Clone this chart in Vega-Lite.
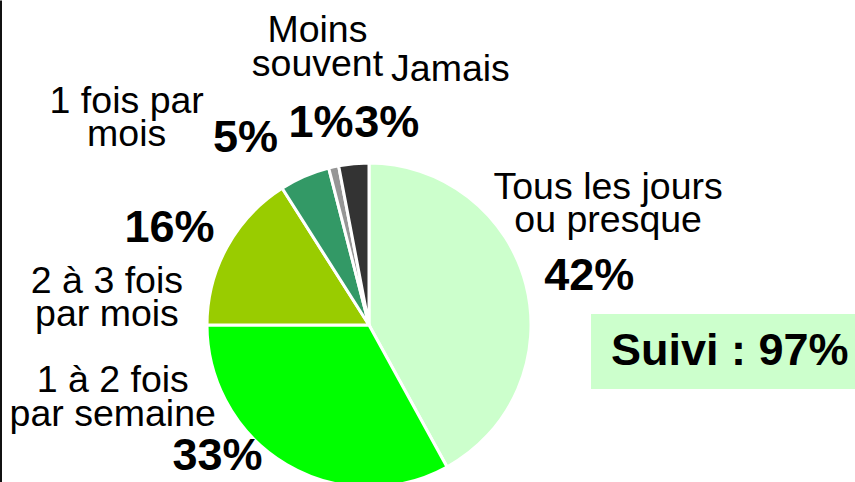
{
  "$schema": "https://vega.github.io/schema/vega-lite/v6.json",
  "width": 738,
  "height": 314,
  "autosize": {"type": "none"},
  "padding": {"left": 0, "top": 168, "right": 117, "bottom": 0},
  "background": "#ffffff",
  "config": {"view": {"stroke": null}, "font": "Liberation Sans"},
  "layer": [
    {
      "data": {
        "values": [
          {"cat": "Tous les jours ou presque", "label": "Tous les jours\nou presque", "val": 42, "pct": "42%", "rang": 1},
          {"cat": "1 à 2 fois par semaine", "label": "1 à 2 fois\npar semaine", "val": 33, "pct": "33%", "rang": 2},
          {"cat": "2 à 3 fois par mois", "label": "2 à 3 fois\npar mois", "val": 16, "pct": "16%", "rang": 3},
          {"cat": "1 fois par mois", "label": "1 fois par\nmois", "val": 5, "pct": "5%", "rang": 4},
          {"cat": "Moins souvent", "label": "Moins\nsouvent", "val": 1, "pct": "1%", "rang": 5},
          {"cat": "Jamais", "label": "Jamais", "val": 3, "pct": "3%", "rang": 6}
        ]
      },
      "encoding": {
        "theta": {"field": "val", "type": "quantitative", "stack": true},
        "order": {"field": "rang", "type": "quantitative"}
      },
      "layer": [
        {
          "mark": {"type": "arc", "outerRadius": 162, "stroke": "#ffffff", "strokeWidth": 3},
          "encoding": {
            "color": {
              "field": "cat", "type": "nominal", "legend": null,
              "scale": {
                "domain": ["Tous les jours ou presque", "1 à 2 fois par semaine", "2 à 3 fois par mois", "1 fois par mois", "Moins souvent", "Jamais"],
                "range": ["#CCFFCC", "#00FF00", "#99CC00", "#339966", "#969696", "#333333"]
              }
            }
          }
        },
        {"mark": {"type": "text", "radius": 215, "dx": 12, "dy": 18, "fontSize": 45, "fontWeight": "bold", "align": "center", "baseline": "alphabetic", "color": "#000"},
         "encoding": {"text": {"field": "pct", "type": "nominal", "condition": {"test": "datum.rang !== 1", "value": ""}}}},
        {"mark": {"type": "text", "radius": 215, "dx": -42, "dy": -40, "fontSize": 45, "fontWeight": "bold", "align": "center", "baseline": "alphabetic", "color": "#000"},
         "encoding": {"text": {"field": "pct", "type": "nominal", "condition": {"test": "datum.rang !== 2", "value": ""}}}},
        {"mark": {"type": "text", "radius": 215, "dx": -11, "dy": 21, "fontSize": 45, "fontWeight": "bold", "align": "center", "baseline": "alphabetic", "color": "#000"},
         "encoding": {"text": {"field": "pct", "type": "nominal", "condition": {"test": "datum.rang !== 3", "value": ""}}}},
        {"mark": {"type": "text", "radius": 215, "dx": -38, "dy": 24, "fontSize": 45, "fontWeight": "bold", "align": "center", "baseline": "alphabetic", "color": "#000"},
         "encoding": {"text": {"field": "pct", "type": "nominal", "condition": {"test": "datum.rang !== 4", "value": ""}}}},
        {"mark": {"type": "text", "radius": 215, "dx": -1, "dy": 22, "fontSize": 45, "fontWeight": "bold", "align": "center", "baseline": "alphabetic", "color": "#000"},
         "encoding": {"text": {"field": "pct", "type": "nominal", "condition": {"test": "datum.rang !== 5", "value": ""}}}},
        {"mark": {"type": "text", "radius": 215, "dx": 38, "dy": 26, "fontSize": 45, "fontWeight": "bold", "align": "center", "baseline": "alphabetic", "color": "#000"},
         "encoding": {"text": {"field": "pct", "type": "nominal", "condition": {"test": "datum.rang !== 6", "value": ""}}}},
        {"mark": {"type": "text", "radius": 250, "dx": -3, "dy": -64, "fontSize": 37.5, "lineHeight": 33.5, "lineBreak": "\n", "align": "center", "baseline": "alphabetic", "color": "#000"},
         "encoding": {"text": {"field": "label", "type": "nominal", "condition": {"test": "datum.rang !== 1", "value": ""}}}},
        {"mark": {"type": "text", "radius": 250, "dx": -129, "dy": -148, "fontSize": 37.5, "lineHeight": 33.5, "lineBreak": "\n", "align": "center", "baseline": "alphabetic", "color": "#000"},
         "encoding": {"text": {"field": "label", "type": "nominal", "condition": {"test": "datum.rang !== 2", "value": ""}}}},
        {"mark": {"type": "text", "radius": 250, "dx": -43, "dy": 88, "fontSize": 37.5, "lineHeight": 33.5, "lineBreak": "\n", "align": "center", "baseline": "alphabetic", "color": "#000"},
         "encoding": {"text": {"field": "label", "type": "nominal", "condition": {"test": "datum.rang !== 3", "value": ""}}}},
        {"mark": {"type": "text", "radius": 250, "dx": -143, "dy": 17, "fontSize": 37.5, "lineHeight": 33.5, "lineBreak": "\n", "align": "center", "baseline": "alphabetic", "color": "#000"},
         "encoding": {"text": {"field": "label", "type": "nominal", "condition": {"test": "datum.rang !== 4", "value": ""}}}},
        {"mark": {"type": "text", "radius": 250, "dx": 3, "dy": -39, "fontSize": 37.5, "lineHeight": 33.5, "lineBreak": "\n", "align": "center", "baseline": "alphabetic", "color": "#000"},
         "encoding": {"text": {"field": "label", "type": "nominal", "condition": {"test": "datum.rang !== 5", "value": ""}}}},
        {"mark": {"type": "text", "radius": 250, "dx": 105, "dy": 5, "fontSize": 37.5, "lineHeight": 33.5, "lineBreak": "\n", "align": "center", "baseline": "alphabetic", "color": "#000"},
         "encoding": {"text": {"field": "label", "type": "nominal", "condition": {"test": "datum.rang !== 6", "value": ""}}}}
      ]
    },
    {
      "data": {"values": [{"titre": "Suivi : 97%"}]},
      "mark": {"type": "point", "opacity": 0},
      "encoding": {
        "shape": {
          "field": "titre", "type": "nominal",
          "legend": {
            "orient": "none", "legendX": 591, "legendY": 146,
            "title": null, "padding": 14.5, "fillColor": "#CCFFCC", "strokeColor": null,
            "symbolSize": 0, "symbolOpacity": 0, "symbolStrokeWidth": 0,
            "labelFontSize": 45, "labelFontWeight": "bold", "labelFont": "Liberation Sans",
            "labelColor": "#000000", "labelLimit": 600, "labelOffset": -39.5
          }
        },
        "y": {
          "datum": 0, "type": "quantitative",
          "scale": {"domain": [0, 1], "range": [314, -168]},
          "axis": {"labels": false, "ticks": false, "grid": false, "title": null, "domainColor": "#111111", "domainWidth": 3}
        }
      }
    }
  ]
}
